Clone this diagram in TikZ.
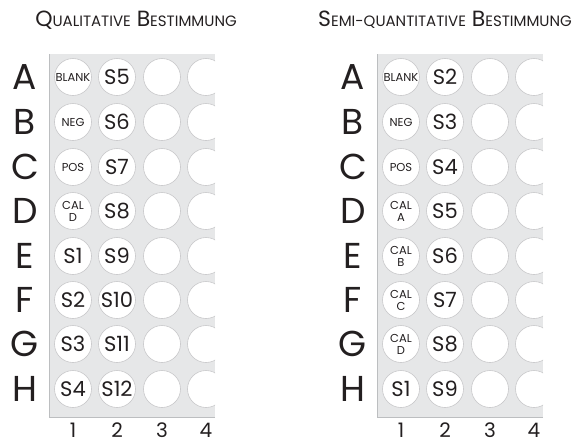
\documentclass[tikz,border=0pt]{standalone}
\usepackage{fontspec}
\setmainfont{Poppins}
\definecolor{plategray}{RGB}{230,231,232}
\definecolor{edgegray}{RGB}{188,190,192}
\definecolor{wellgray}{RGB}{200,200,202}
\definecolor{ink}{RGB}{35,31,32}
\newcommand{\smcap}[1]{{\fontsize{15}{15}\selectfont #1}}
\tikzset{
  well/.style={circle,draw=wellgray,fill=white,line width=0.6pt,minimum size=37pt,inner sep=0pt,text=ink},
  lbl/.style={font=\fontsize{11.5}{12}\selectfont,align=center},
  num/.style={font=\fontsize{21}{21}\selectfont},
  rowlbl/.style={font=\fontsize{36}{36}\selectfont,text=ink},
  collbl/.style={font=\fontsize{20}{20}\selectfont,text=ink,anchor=base,inner sep=0pt},
  title/.style={font=\fontsize{22}{22}\selectfont,text=ink},
  plate/.style={fill=plategray},
  plateedge/.style={draw=edgegray,line width=0.8pt},
}
\begin{document}
\begin{tikzpicture}[x=1pt,y=-1pt]
  \useasboundingbox (0,0) rectangle (576,445);
  % Qualitative plate
  \node[title] (qtitle) at (136,20) {Q\smcap{UALITATIVE} B\smcap{ESTIMMUNG}};
  \begin{scope}
    \fill[plate] (49,54) rectangle (215,417);
    \draw[plateedge] (215,417) -- (49,417) -- (49,54);
    \begin{scope}
      \clip (49,54) rectangle (215,417);
      \foreach \r/\y/\ta/\sa/\tb/\sb in {A/77/BLANK/lbl/S5/num, B/122/NEG/lbl/S6/num,
          C/167/POS/lbl/S7/num, D/211/{CAL\\D}/lbl/S8/num, E/256/S1/num/S9/num,
          F/300/S2/num/S10/num, G/344/S3/num/S11/num, H/389/S4/num/S12/num}{
        \node[well,\sa] (q\r1) at (73,\y) {\ta};
        \node[well,\sb] (q\r2) at (117,\y) {\tb};
        \node[well] (q\r3) at (162,\y) {};
        \node[well] (q\r4) at (206,\y) {};
      }
    \end{scope}
    \foreach \r/\y in {A/77,B/122,C/167,D/211,E/256,F/300,G/344,H/389}
      \node[rowlbl] (qrow\r) at (25,\y) {\r};
    \foreach \c/\x in {1/73,2/117,3/162,4/206}
      \node[collbl] (qcol\c) at (\x,437) {\c};
  \end{scope}
  % Semi-quantitative plate
  \node[title] (stitle) at (445,20) {S\smcap{EMI-QUANTITATIVE} B\smcap{ESTIMMUNG}};
  \begin{scope}[xshift=328pt]
    \fill[plate] (49,54) rectangle (215,417);
    \draw[plateedge] (215,417) -- (49,417) -- (49,54);
    \begin{scope}
      \clip (49,54) rectangle (215,417);
      \foreach \r/\y/\ta/\sa/\tb/\sb in {A/77/BLANK/lbl/S2/num, B/122/NEG/lbl/S3/num,
          C/167/POS/lbl/S4/num, D/211/{CAL\\A}/lbl/S5/num, E/256/{CAL\\B}/lbl/S6/num,
          F/300/{CAL\\C}/lbl/S7/num, G/344/{CAL\\D}/lbl/S8/num, H/389/S1/num/S9/num}{
        \node[well,\sa] (s\r1) at (73,\y) {\ta};
        \node[well,\sb] (s\r2) at (117,\y) {\tb};
        \node[well] (s\r3) at (162,\y) {};
        \node[well] (s\r4) at (206,\y) {};
      }
    \end{scope}
    \foreach \r/\y in {A/77,B/122,C/167,D/211,E/256,F/300,G/344,H/389}
      \node[rowlbl] (srow\r) at (25,\y) {\r};
    \foreach \c/\x in {1/73,2/117,3/162,4/206}
      \node[collbl] (scol\c) at (\x,437) {\c};
  \end{scope}
\end{tikzpicture}
\end{document}
